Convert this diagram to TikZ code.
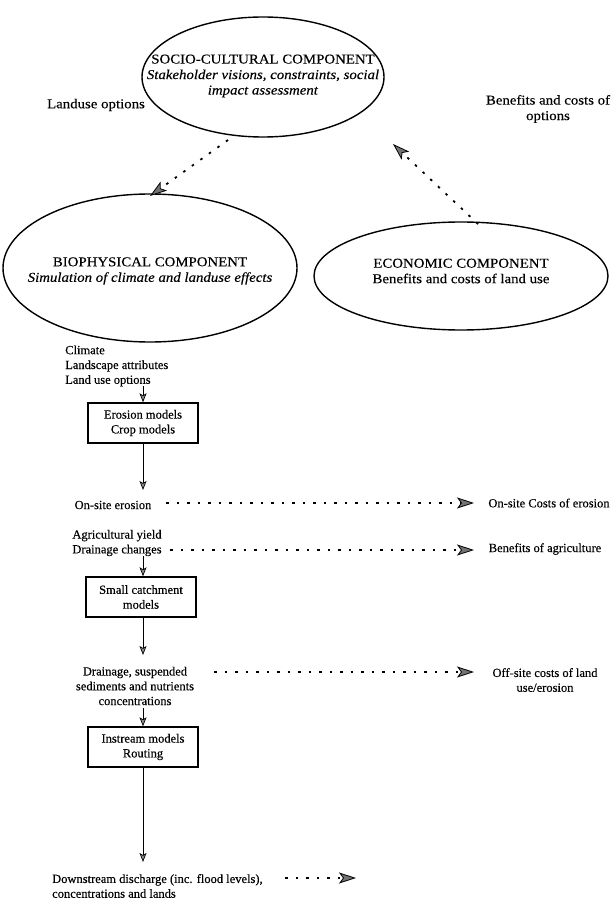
\documentclass[tikz,border=0pt]{standalone}
\usepackage{fontspec}
\setmainfont{Liberation Serif}[FakeBold=0.3]
\newfontfamily\widefont{Liberation Serif}[FakeStretch=1.1,FakeBold=0.3]
\usetikzlibrary{arrows.meta,shapes.geometric}
\begin{document}
\begin{tikzpicture}[x=1pt,y=-1pt,
  every node/.style={font=\fontsize{12.5}{14.8}\selectfont, inner sep=0pt},
  big/.style={font=\widefont\fontsize{13.5}{15.5}\selectfont},
  comp/.style={ellipse, draw, line width=1.4pt},
  modelbox/.style={draw, line width=1.4pt, minimum width=110pt, minimum height=40pt, align=center},
  txt/.style={align=center},
  ltxt/.style={align=left, anchor=west},
  dotarrow/.style={line width=1.8pt, dash pattern=on 2.5pt off 8pt,
     -{Stealth[width=11pt,length=17pt,inset=4pt,fill=black!55,line width=0.8pt]}},
  flow/.style={line width=0.8pt, -{Stealth[width=7pt,length=9pt,inset=2pt,fill=black!45,line width=0.7pt]}}
]
\useasboundingbox (0,0) rectangle (611,917);

% ellipses
\node[comp, minimum width=242pt, minimum height=120pt] (soc) at (263,77) {};
\node[comp, minimum width=294pt, minimum height=148pt] (bio) at (150,268) {};
\node[comp, minimum width=294pt, minimum height=108pt] (eco) at (461,276) {};

\node[txt,big] (soct) at (263,76) {SOCIO-CULTURAL COMPONENT\\\textit{Stakeholder visions, constraints, social}\\\textit{impact assessment}};
\node[txt,big] (biot) at (150,271) {BIOPHYSICAL COMPONENT\\\textit{Simulation of climate and landuse effects}};
\node[txt,big] (ecot) at (461,271) {ECONOMIC COMPONENT\\Benefits and costs of land use};

\node[txt,big] (luo) at (96,105) {Landuse options};
\node[txt,big] (bco) at (548,109) {Benefits and costs of\\options};

\coordinate (a1s) at (228,140);
\coordinate (a1e) at (150,196);
\draw[dotarrow] (a1s) -- (a1e);
\coordinate (a2s) at (478,224);
\coordinate (a2e) at (393,144);
\draw[dotarrow] (a2s) -- (a2e);

% inputs
\node[ltxt] (inp) at (65,366) {Climate\\Landscape attributes\\Land use options};
\node[modelbox] (ero) at (143,423) {Erosion models\\Crop models};
\coordinate (c1) at (143,386);
\draw[flow] (c1) -- (ero.north);

\node[txt] (ons) at (113,505) {On-site erosion};
\coordinate (c2) at (143,490);
\draw[flow] (ero.south) -- (c2);
\node[txt] (onc) at (549,503) {On-site Costs of erosion};
\coordinate (d1s) at (166,503);
\coordinate (d1e) at (474,503);
\draw[dotarrow] (d1s) -- (d1e);

\node[txt] (agr) at (117,543) {Agricultural yield\\Drainage changes};
\node[txt] (boa) at (545,549) {Benefits of agriculture};
\coordinate (d2s) at (170,550);
\coordinate (d2e) at (474,550);
\draw[dotarrow] (d2s) -- (d2e);

\node[modelbox] (smc) at (141,597) {Small catchment\\models};
\coordinate (c3) at (143,556);
\draw[flow] (c3) -- (c3 |- smc.north);

\node[txt] (drn) at (135,686) {Drainage, suspended\\sediments and nutrients\\concentrations};
\coordinate (c4) at (143,655);
\draw[flow] (smc.south -| c4) -- (c4);
\node[txt] (off) at (545,680) {Off-site costs of land\\use/erosion};
\coordinate (d3s) at (214,672);
\coordinate (d3e) at (474,672);
\draw[dotarrow] (d3s) -- (d3e);

\node[ltxt] (dwn) at (52,886) {Downstream discharge (inc. flood levels),\\concentrations and lands};
\node[modelbox] (ins) at (143,747) {Instream models\\Routing};
\coordinate (c5) at (143,708);
\draw[flow] (c5) -- (ins.north);
\coordinate (c6) at (143,862);
\draw[flow] (ins.south) -- (c6);
\coordinate (d4s) at (285,878);
\coordinate (d4e) at (356,878);
\draw[dotarrow] (d4s) -- (d4e);
\end{tikzpicture}
\end{document}
